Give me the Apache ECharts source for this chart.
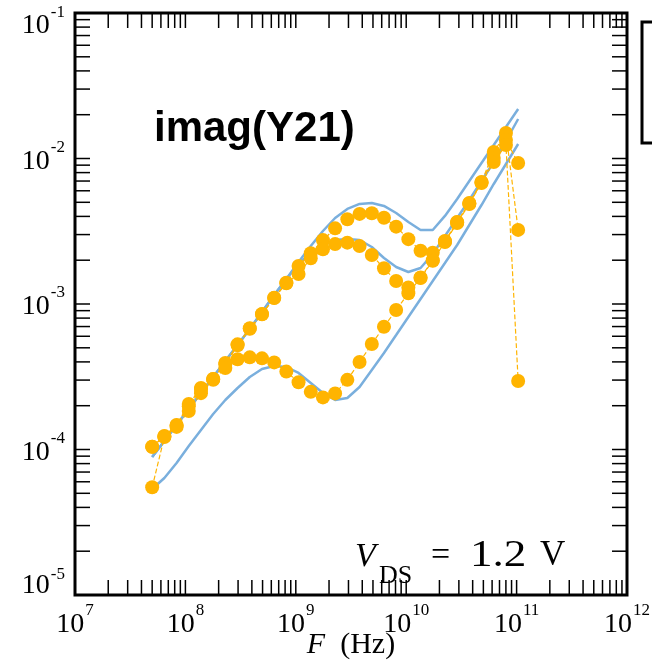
<!DOCTYPE html>
<html>
<head>
<meta charset="utf-8">
<script src="https://cdn.jsdelivr.net/npm/echarts@6/dist/echarts.min.js"></script>
<style>
  html, body { margin: 0; padding: 0; background: #fff; }
  #chart { width: 652px; height: 661px; }
</style>
</head>
<body>
<div id="chart"></div>
<script>
// frequency sweep (Hz)
const freqHz = [5.0e7, 6.45e7, 8.32e7, 1.073e8, 1.384e8, 1.785e8, 2.30e8, 2.97e8, 3.83e8, 4.94e8,
  6.37e8, 8.21e8, 1.059e9, 1.366e9, 1.762e9, 2.27e9, 2.93e9, 3.78e9, 4.88e9, 6.29e9,
  8.11e9, 1.046e10, 1.349e10, 1.740e10, 2.244e10, 2.894e10, 3.73e10, 4.81e10, 6.21e10, 8.01e10, 1.033e11]

// measured imag(Y21), dots
const measA = [1.045e-4, 1.238e-4, 1.473e-4, 2.055e-4, 2.65e-4, 3.05e-4, 3.93e-4, 5.28e-4, 6.81e-4, 8.53e-4,
  1.105e-3, 1.40e-3, 1.824e-3, 2.23e-3, 2.75e-3, 3.31e-3, 3.82e-3, 4.16e-3, 4.20e-3, 3.92e-3,
  3.40e-3, 2.79e-3, 2.32e-3, 2.25e-3, 2.71e-3, 3.66e-3, 4.94e-3, 6.89e-3, 1.109e-2, 1.496e-2, 3.23e-3]
const measB = [1.045e-4, 1.23e-4, 1.46e-4, 1.98e-4, 2.60e-4, 3.05e-4, 3.85e-4, 5.2e-4, 6.75e-4, 8.5e-4,
  1.10e-3, 1.39e-3, 1.607e-3, 2.06e-3, 2.38e-3, 2.58e-3, 2.64e-3, 2.50e-3, 2.17e-3, 1.76e-3,
  1.44e-3, 1.30e-3, 1.52e-3, 2.00e-3, 2.69e-3, 3.64e-3, 4.90e-3, 6.85e-3, 1.008e-2, 1.34e-2, 9.31e-3]
const measC = [5.50e-5, 1.22e-4, 1.43e-4, 1.84e-4, 2.44e-4, 3.01e-4, 3.63e-4, 4.17e-4, 4.30e-4, 4.23e-4,
  3.97e-4, 3.43e-4, 2.90e-4, 2.49e-4, 2.28e-4, 2.43e-4, 3.01e-4, 3.99e-4, 5.31e-4, 6.98e-4,
  9.09e-4, 1.185e-3, 1.51e-3, 1.98e-3, 2.67e-3, 3.60e-3, 4.87e-3, 6.79e-3, 9.46e-3, 1.239e-2, 2.96e-4]

// simulated imag(Y21), solid lines
const simA = [8.88e-5, 1.144e-4, 1.474e-4, 1.899e-4, 2.445e-4, 3.15e-4, 4.06e-4, 5.23e-4, 6.73e-4, 8.81e-4,
  1.153e-3, 1.485e-3, 1.944e-3, 2.504e-3, 3.175e-3, 3.90e-3, 4.50e-3, 4.87e-3, 4.94e-3, 4.72e-3,
  4.22e-3, 3.66e-3, 3.226e-3, 3.226e-3, 4.03e-3, 5.27e-3, 7.01e-3, 9.31e-3, 1.238e-2, 1.646e-2, 2.189e-2]
const simB = [8.88e-5, 1.144e-4, 1.474e-4, 1.899e-4, 2.445e-4, 3.15e-4, 4.06e-4, 5.23e-4, 6.73e-4, 8.81e-4,
  1.153e-3, 1.485e-3, 1.883e-3, 2.242e-3, 2.544e-3, 2.754e-3, 2.797e-3, 2.754e-3, 2.465e-3, 2.072e-3,
  1.796e-3, 1.659e-3, 1.767e-3, 2.206e-3, 2.934e-3, 3.90e-3, 5.185e-3, 7.01e-3, 9.46e-3, 1.319e-2, 1.868e-2]
const simC = [5.35e-5, 6.37e-5, 8.07e-5, 1.057e-4, 1.361e-4, 1.754e-4, 2.189e-4, 2.647e-4, 3.15e-4, 3.575e-4,
  3.749e-4, 3.69e-4, 3.356e-4, 2.864e-4, 2.445e-4, 2.189e-4, 2.259e-4, 2.689e-4, 3.519e-4, 4.605e-4,
  6.12e-4, 8.14e-4, 1.082e-3, 1.439e-3, 1.913e-3, 2.544e-3, 3.491e-3, 4.79e-3, 6.68e-3, 9.17e-3, 1.258e-2]

// axes
const X_MIN = 1e7, X_MAX = 1e12
const Y_MIN = 1e-5, Y_MAX = 1e-1
const xDecades = [7, 8, 9, 10, 11]
const yDecades = [-5, -4, -3, -2]
const tickMantissas = [1, 2, 3, 4, 5, 6, 7, 8, 9]

const TICK_LEN = 15
const DOT = '#FFB400'
const LINE = '#7AAFDD'
const SERIF = 'Liberation Serif'

function logTicks(decades, top) {
  const out = []
  decades.forEach(d => tickMantissas.forEach(m => out.push(m * Math.pow(10, d))))
  out.push(top)
  return out
}
const xTickVals = logTicks(xDecades, X_MAX)
const yTickVals = logTicks(yDecades, Y_MAX)

const pairs = ys => freqHz.map((f, i) => [f, ys[i]])

function expOf(v) {
  return Math.round(Math.log10(v))
}

const labelRich = {
  b: { fontFamily: SERIF, fontSize: 28, color: '#000', padding: [6, 0, 0, 0] },
  s: { fontFamily: SERIF, fontSize: 17, color: '#000', padding: [0, 0, 22, 1] },
  bt: { fontFamily: SERIF, fontSize: 28, color: '#000', padding: [26, 0, 0, 0] },
  st: { fontFamily: SERIF, fontSize: 17, color: '#000', padding: [0, 0, 0, 1] },
  bb: { fontFamily: SERIF, fontSize: 28, color: '#000', padding: [0, 0, 18, 0] },
  sb: { fontFamily: SERIF, fontSize: 17, color: '#000', padding: [0, 0, 40, 1] }
}

function xTickItem(params, api) {
  const v = api.value(0)
  const b = api.coord([v, Y_MIN])
  const t = api.coord([v, Y_MAX])
  return {
    type: 'group',
    children: [
      { type: 'line', shape: { x1: b[0], y1: b[1], x2: b[0], y2: b[1] - TICK_LEN }, style: { stroke: '#000', lineWidth: 1.5 } },
      { type: 'line', shape: { x1: t[0], y1: t[1], x2: t[0], y2: t[1] + TICK_LEN }, style: { stroke: '#000', lineWidth: 1.5 } }
    ]
  }
}

function yTickItem(params, api) {
  const v = api.value(1)
  const l = api.coord([X_MIN, v])
  const r = api.coord([X_MAX, v])
  return {
    type: 'group',
    children: [
      { type: 'line', shape: { x1: l[0], y1: l[1], x2: l[0] + TICK_LEN, y2: l[1] }, style: { stroke: '#000', lineWidth: 1.5 } },
      { type: 'line', shape: { x1: r[0], y1: r[1], x2: r[0] - TICK_LEN, y2: r[1] }, style: { stroke: '#000', lineWidth: 1.5 } }
    ]
  }
}

function simSeries(ys) {
  return {
    type: 'line',
    data: pairs(ys),
    showSymbol: false,
    lineStyle: { color: LINE, width: 2.5 },
    itemStyle: { color: LINE },
    z: 2
  }
}

function measSeries(ys) {
  return {
    type: 'line',
    data: pairs(ys),
    symbol: 'circle',
    symbolSize: 14,
    showAllSymbol: true,
    itemStyle: { color: DOT },
    lineStyle: { color: DOT, width: 1.2, type: 'dashed' },
    z: 3
  }
}

const chart = echarts.init(document.getElementById('chart'))
chart.setOption({
  animation: false,
  backgroundColor: '#fff',
  grid: {
    left: 75, top: 13, width: 552, height: 582,
    outerBoundsMode: 'none', containLabel: false,
    show: true, borderColor: '#000', borderWidth: 3, backgroundColor: 'transparent'
  },
  xAxis: {
    type: 'log',
    min: X_MIN,
    max: X_MAX,
    splitNumber: 5,
    axisLine: { show: false },
    axisTick: { show: false },
    splitLine: { show: false },
    axisLabel: {
      margin: 7,
      showMinLabel: true,
      showMaxLabel: true,
      formatter: v => '{b|10}{s|' + expOf(v) + '}',
      rich: labelRich
    },
    name: '{i|F}  (Hz)',
    nameLocation: 'middle',
    nameGap: 35,
    nameMoveOverlap: false,
    nameTextStyle: {
      fontFamily: SERIF, fontSize: 30, color: '#000', lineHeight: 30,
      rich: { i: { fontFamily: SERIF, fontSize: 30, fontStyle: 'italic', color: '#000', lineHeight: 30 } }
    }
  },
  yAxis: {
    type: 'log',
    min: Y_MIN,
    max: Y_MAX,
    splitNumber: 4,
    axisLine: { show: false },
    axisTick: { show: false },
    splitLine: { show: false },
    axisLabel: {
      margin: 10,
      showMinLabel: true,
      showMaxLabel: true,
      formatter: v => {
        const e = expOf(v)
        if (e === -1) return '{bt|10}{st|' + e + '}'
        if (e === -5) return '{bb|10}{sb|' + e + '}'
        return '{b|10}{s|' + e + '}'
      },
      rich: labelRich
    }
  },
  graphic: [
    { type: 'text', x: 154, y: 108, style: { text: 'imag(Y21)', fontFamily: 'Liberation Sans', fontWeight: 'bold', fontSize: 42, fill: '#000', verticalAlign: 'top' } },
    { type: 'text', x: 355, y: 557, style: { text: 'V', fontFamily: SERIF, fontStyle: 'italic', fontSize: 34, fill: '#000', verticalAlign: 'middle' } },
    { type: 'text', x: 379, y: 576, style: { text: 'DS', fontFamily: SERIF, fontSize: 26, fill: '#000', verticalAlign: 'middle' } },
    { type: 'text', x: 431, y: 556, style: { text: '=', fontFamily: SERIF, fontSize: 34, fill: '#000', verticalAlign: 'middle' } },
    { type: 'text', x: 470, y: 556, scaleX: 1.22, style: { text: '1.2', fontFamily: SERIF, fontSize: 37, fill: '#000', verticalAlign: 'middle' } },
    { type: 'text', x: 540, y: 556, style: { text: 'V', fontFamily: SERIF, fontSize: 35, fill: '#000', verticalAlign: 'middle' } },
    { type: 'rect', shape: { x: 642, y: 22, width: 40, height: 121 }, style: { fill: 'none', stroke: '#000', lineWidth: 3 } }
  ],
  series: [
    simSeries(simA),
    simSeries(simB),
    simSeries(simC),
    measSeries(measA),
    measSeries(measB),
    measSeries(measC),
    {
      type: 'custom',
      renderItem: xTickItem,
      data: xTickVals.map(v => [v, Y_MIN]),
      encode: { x: 0, y: 1 },
      clip: false,
      silent: true,
      z: 5
    },
    {
      type: 'custom',
      renderItem: yTickItem,
      data: yTickVals.map(v => [X_MIN, v]),
      encode: { x: 0, y: 1 },
      clip: false,
      silent: true,
      z: 5
    }
  ]
})
</script>
</body>
</html>
